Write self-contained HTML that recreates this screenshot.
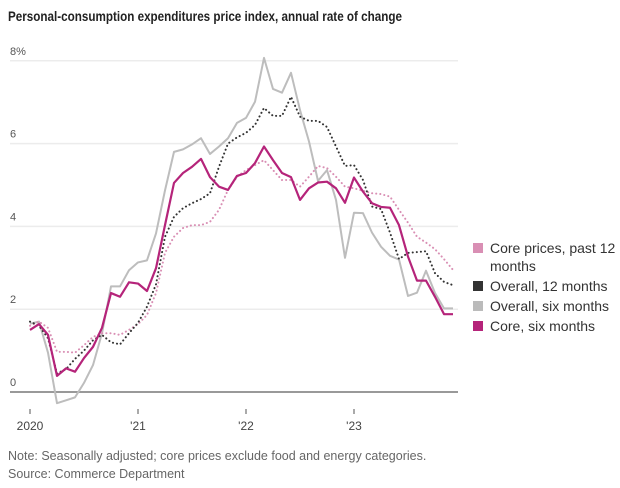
<!DOCTYPE html>
<html><head><meta charset="utf-8"><style>
body{margin:0;background:#fff;font-family:"Liberation Sans",sans-serif}
svg{display:block}
</style></head><body>
<svg id="chart" width="620" height="488" viewBox="0 0 620 488" xmlns="http://www.w3.org/2000/svg">
<text x="8" y="21" font-size="14" font-weight="bold" fill="#222" textLength="394" lengthAdjust="spacingAndGlyphs">Personal-consumption expenditures price index, annual rate of change</text>
<g id="grid"></g><g id="series"></g>
<g font-size="14" fill="#333">
<rect x="473" y="243" width="10" height="10" fill="#d98fb4"/>
<text x="490" y="253">Core prices, past 12</text>
<text x="490" y="271">months</text>
<rect x="473" y="281" width="10" height="10" fill="#333"/>
<text x="490" y="291">Overall, 12 months</text>
<rect x="473" y="301" width="10" height="10" fill="#bbb"/>
<text x="490" y="311">Overall, six months</text>
<rect x="473" y="321" width="10" height="10" fill="#b5247a"/>
<text x="490" y="331">Core, six months</text>
</g>
<text x="8" y="460" font-size="12.5" fill="#666">Note: Seasonally adjusted; core prices exclude food and energy categories.</text>
<text x="8" y="478" font-size="12.5" fill="#666">Source: Commerce Department</text>
</svg>
<script>
const yTicks=[0,2,4,6,8];
const yTickLabels=["0","2","4","6","8%"];
const xTicks=[0,12,24,36];
const xTickLabels=["2020","'21","'22","'23"];
const core12=[1.6,1.7,1.55,0.97,0.97,0.95,1.13,1.33,1.42,1.42,1.38,1.5,1.64,1.86,2.39,3.36,3.75,3.96,4.03,4.03,4.11,4.4,4.88,5.2,5.36,5.48,5.6,5.36,5.12,5.12,4.96,5.2,5.46,5.41,5.2,4.96,4.92,4.86,4.8,4.78,4.72,4.4,4.09,3.75,3.61,3.45,3.21,2.95];
const overall12=[1.7,1.6,1.3,0.45,0.55,0.8,1.0,1.25,1.38,1.2,1.15,1.42,1.67,2.06,2.6,3.75,4.23,4.44,4.56,4.66,4.8,5.44,6.0,6.15,6.26,6.45,6.86,6.67,6.67,7.13,6.65,6.55,6.55,6.4,5.93,5.46,5.48,5.12,4.48,4.42,3.85,3.21,3.36,3.38,3.4,2.87,2.66,2.58];
const overall6=[1.65,1.7,0.95,-0.27,-0.2,-0.13,0.22,0.65,1.42,2.55,2.55,2.94,3.13,3.18,3.83,4.87,5.8,5.86,5.98,6.13,5.75,5.93,6.13,6.5,6.62,7.01,8.07,7.32,7.23,7.71,6.81,6.05,5.1,5.36,4.64,3.24,4.33,4.32,3.85,3.51,3.29,3.2,2.32,2.4,2.93,2.39,2.02,2.02];
const core6=[1.5,1.64,1.38,0.39,0.57,0.49,0.82,1.09,1.55,2.39,2.3,2.65,2.62,2.44,2.99,4.03,5.05,5.29,5.44,5.63,5.19,4.96,4.88,5.22,5.29,5.53,5.93,5.6,5.29,5.19,4.64,4.92,5.06,5.08,4.92,4.57,5.18,4.84,4.56,4.47,4.45,4.03,3.27,2.69,2.69,2.3,1.88,1.88];
const NS="http://www.w3.org/2000/svg";
const x=i=>30+i*9;
const y=v=>392-v*41.4;
const grid=document.getElementById('grid'),ser=document.getElementById('series');
function mk(tag,attrs,parent){const e=document.createElementNS(NS,tag);for(const k in attrs)e.setAttribute(k,attrs[k]);parent.appendChild(e);return e;}
yTicks.forEach((t,i)=>{
  const l=mk('line',{x1:10,x2:458,y1:y(t),y2:y(t),stroke:t===0?'#999':'#ececec','stroke-width':t===0?2:1.5},grid);
  
  
  const tx=mk('text',{x:10,y:y(t)-6,'font-size':11,fill:'#555'},grid);
  tx.textContent=yTickLabels[i];
  
  
});
xTicks.forEach((m,i)=>{
  const l=mk('line',{x1:x(m),x2:x(m),y1:409,y2:414,stroke:'#555','stroke-width':1},grid);
  
  
  const tx=mk('text',{x:x(m),y:430,'font-size':12,fill:'#444','text-anchor':'middle'},grid);
  tx.textContent=xTickLabels[i];
  
  
});
function line(data,color,w,dash,name){
  const p=mk('polyline',{points:data.map((v,i)=>x(i)+','+y(v)).join(' '),fill:'none',stroke:color,'stroke-width':w,'stroke-linejoin':'round'},ser);
  if(dash){p.setAttribute('stroke-dasharray',dash);p.setAttribute('stroke-linecap','round');}
  
  
}
line(overall6,'#bdbdbd',2,null,'overall-six-months-line');
line(core12,'#d98fb4',2,'0.1 4','core-12-months-line');
line(overall12,'#333',2,'0.1 4','overall-12-months-line');
line(core6,'#b5247a',2.2,null,'core-six-months-line');
</script>
</body></html>
